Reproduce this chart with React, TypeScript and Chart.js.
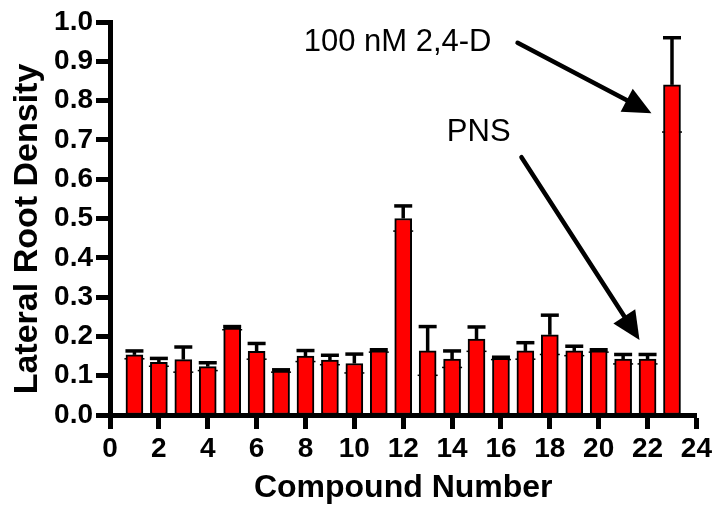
import React, { useEffect, useRef } from 'react';
import { Chart, registerables } from 'chart.js';

Chart.register(...registerables);

// ---- data ----
const compounds = [1, 2, 3, 4, 5, 6, 7, 8, 9, 10, 11, 12, 13, 14, 15, 16, 17, 18, 19, 20, 21, 22, 23];
const density = [0.153, 0.134, 0.141, 0.123, 0.221, 0.162, 0.112, 0.15, 0.14, 0.131, 0.163, 0.5, 0.163, 0.142, 0.193, 0.144, 0.163, 0.204, 0.163, 0.163, 0.142, 0.142, 0.84];
const sem = [0.01, 0.01, 0.032, 0.01, 0.004, 0.02, 0.003, 0.014, 0.012, 0.024, 0.003, 0.032, 0.062, 0.021, 0.031, 0.003, 0.021, 0.05, 0.012, 0.003, 0.012, 0.012, 0.12];
const xTickValues = [0, 2, 4, 6, 8, 10, 12, 14, 16, 18, 20, 22, 24];
const yTickValues = [0, 0.1, 0.2, 0.3, 0.4, 0.5, 0.6, 0.7, 0.8, 0.9, 1.0];
const xTitle = 'Compound Number';
const yTitle = 'Lateral Root Density';

// annotations (in data coordinates)
const annotations = [
  { text: '100 nM 2,4-D', tx: 11.77, ty: 0.949, x0: 16.68, y0: 0.947, x1: 22.16, y1: 0.768 },
  { text: 'PNS', tx: 15.09, ty: 0.718, x0: 16.84, y0: 0.656, x1: 21.67, y1: 0.191 },
];

const FONT = "'Liberation Sans', Arial, sans-serif";

const errorBarPlugin = {
  id: 'errorBarsAndNotes',
  beforeDatasetsDraw(chart: any) {
    const ctx = chart.ctx;
    const ys = chart.scales.y;
    const meta = chart.getDatasetMeta(0);
    ctx.save();
    ctx.strokeStyle = '#000';
    ctx.lineWidth = 1.5;
    meta.data.forEach((bar: any, i: number) => {
      const lo = ys.getPixelForValue(density[i] - sem[i]);
      ctx.beginPath();
      ctx.moveTo(bar.x - 10, lo);
      ctx.lineTo(bar.x + 10, lo);
      ctx.stroke();
    });
    ctx.restore();
  },
  afterDatasetsDraw(chart: any) {
    const ctx = chart.ctx;
    const ys = chart.scales.y;
    const meta = chart.getDatasetMeta(0);
    ctx.save();
    ctx.strokeStyle = '#000';
    meta.data.forEach((bar: any, i: number) => {
      const top = ys.getPixelForValue(density[i]);
      const hi = ys.getPixelForValue(density[i] + sem[i]);
      ctx.lineWidth = 3.5;
      ctx.beginPath();
      ctx.moveTo(bar.x, top);
      ctx.lineTo(bar.x, hi);
      ctx.stroke();
      ctx.lineWidth = 3.5;
      ctx.beginPath();
      ctx.moveTo(bar.x - 9, hi);
      ctx.lineTo(bar.x + 9, hi);
      ctx.stroke();
    });
    ctx.restore();
  },
  afterDraw(chart: any) {
    const ctx = chart.ctx;
    const xs = chart.scales.x;
    const ys = chart.scales.y;
    const area = chart.chartArea;
    ctx.save();
    ctx.fillStyle = '#000';
    ctx.strokeStyle = '#000';
    // annotations
    annotations.forEach((a) => {
      ctx.font = `31px ${FONT}`;
      ctx.textAlign = 'center';
      ctx.textBaseline = 'middle';
      ctx.fillText(a.text, xs.getPixelForValue(a.tx), ys.getPixelForValue(a.ty));
      const sx = xs.getPixelForValue(a.x0);
      const sy = ys.getPixelForValue(a.y0);
      const ex = xs.getPixelForValue(a.x1);
      const ey = ys.getPixelForValue(a.y1);
      const ang = Math.atan2(ey - sy, ex - sx);
      const headLen = 28;
      const headHalf = 13;
      const bx = ex - headLen * Math.cos(ang);
      const by = ey - headLen * Math.sin(ang);
      ctx.lineWidth = 4.5;
      ctx.lineCap = 'round';
      ctx.beginPath();
      ctx.moveTo(sx, sy);
      ctx.lineTo(bx + 4 * Math.cos(ang), by + 4 * Math.sin(ang));
      ctx.stroke();
      ctx.beginPath();
      ctx.moveTo(ex, ey);
      ctx.lineTo(bx + headHalf * Math.sin(ang), by - headHalf * Math.cos(ang));
      ctx.lineTo(bx - headHalf * Math.sin(ang), by + headHalf * Math.cos(ang));
      ctx.closePath();
      ctx.fill();
    });
    // axis titles
    ctx.font = `bold 32px ${FONT}`;
    ctx.textAlign = 'center';
    ctx.textBaseline = 'middle';
    ctx.fillText(xTitle, (area.left + area.right) / 2, 488);
    ctx.translate(28, 229);
    ctx.rotate(-Math.PI / 2);
    ctx.font = `bold 34px ${FONT}`;
    ctx.fillText(yTitle, 0, 0);
    ctx.restore();
  },
};

export default function App() {
  const canvasRef = useRef<HTMLCanvasElement | null>(null);

  useEffect(() => {
    document.body.style.margin = '0';
    const canvas = canvasRef.current;
    if (!canvas) return;
    const chart = new Chart(canvas, {
      type: 'bar',
      data: {
        datasets: [
          {
            data: compounds.map((c, i) => ({ x: c, y: density[i] })),
            backgroundColor: '#ff0000',
            borderColor: '#000000',
            borderWidth: 2,
            borderSkipped: false,
            barThickness: 17,
          },
        ],
      },
      options: {
        animation: false,
        responsive: true,
        maintainAspectRatio: false,
        layout: { padding: { top: 22, right: 18, left: 0, bottom: 0 } },
        plugins: { legend: { display: false }, tooltip: { enabled: false }, title: { display: false } },
        scales: {
          x: {
            type: 'linear',
            min: 0,
            max: 24,
            offset: false,
            afterFit: (s: any) => { s.height = 93; },
            afterBuildTicks: (s: any) => { s.ticks = xTickValues.map((v) => ({ value: v })); },
            ticks: {
              stepSize: 2,
              autoSkip: false,
              maxRotation: 0,
              color: '#000',
              padding: 3,
              font: { family: FONT, size: 28, weight: 'bold' },
            },
            grid: {
              offset: false,
              drawOnChartArea: false,
              drawTicks: true,
              tickLength: 14,
              tickWidth: 5,
              tickColor: '#000',
            },
            border: { display: true, color: '#000', width: 5 },
          },
          y: {
            type: 'linear',
            min: 0,
            max: 1,
            afterFit: (s: any) => { s.width = 110; },
            afterBuildTicks: (s: any) => { s.ticks = yTickValues.map((v) => ({ value: v })); },
            ticks: {
              stepSize: 0.1,
              color: '#000',
              padding: 3,
              font: { family: FONT, size: 28, weight: 'bold' },
              callback: (v: any) => Number(v).toFixed(1),
            },
            grid: {
              drawOnChartArea: false,
              drawTicks: true,
              tickLength: 14,
              tickWidth: 5,
              tickColor: '#000',
            },
            border: { display: true, color: '#000', width: 5 },
          },
        },
      } as any,
      plugins: [errorBarPlugin],
    });
    return () => chart.destroy();
  }, []);

  return (
    <div style={{ position: 'relative', width: 715, height: 508 }}>
      <canvas ref={canvasRef} />
    </div>
  );
}
